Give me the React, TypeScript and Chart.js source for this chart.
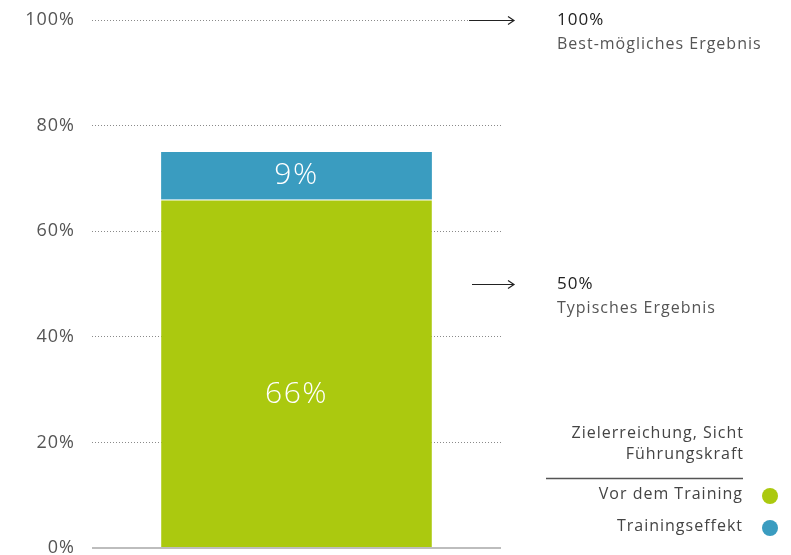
import React, { useEffect, useRef } from "react";
import { Chart, registerables } from "chart.js";

Chart.register(...registerables);

const categories = ["Zielerreichung, Sicht Führungskraft"];
const seriesNames = ["Vor dem Training", "Trainingseffekt"];
const beforeTraining = [66];
const trainingEffect = [9];
const seriesColors = ["#abc90f", "#3a9cc0"];
const yTickStep = 20;
const yMax = 100;
const referenceValues = [100, 50];
const referenceTitles = ["100%", "50%"];
const referenceLabels = ["Best-mögliches Ergebnis", "Typisches Ergebnis"];
const legendTitle = ["Zielerreichung, Sicht", "Führungskraft"];

const FONT = "'Open Sans', 'DejaVu Sans', sans-serif";

const overlayPlugin = {
  id: "overlay",
  beforeDraw(chart: any) {
    chart.ctx.letterSpacing = "1px";
  },
  afterDatasetsDraw(chart: any) {
    const ctx = chart.ctx;
    ctx.save();
    ctx.letterSpacing = "1.5px";
    ctx.fillStyle = "#ffffff";
    ctx.textAlign = "center";
    ctx.textBaseline = "middle";
    ctx.font = `300 30px ${FONT}`;
    chart.data.datasets.forEach((ds: any, di: number) => {
      const meta = chart.getDatasetMeta(di);
      meta.data.forEach((el: any, i: number) => {
        const v = ds.data[i];
        const top = el.y;
        const base = el.base;
        const frac = base - top > 100 ? 0.44 : 0.5;
        ctx.fillText(`${v}%`, el.x, base - (base - top) * frac);
      });
    });
    ctx.restore();
  },
  afterDraw(chart: any) {
    const ctx = chart.ctx;
    const y = chart.scales.y;
    ctx.save();
    ctx.letterSpacing = "1px";
    // reference arrows + texts
    referenceValues.forEach((v, i) => {
      const py = Math.round(y.getPixelForValue(v)) + 0.5;
      const x0 = i === 0 ? 469 : 472;
      const x1 = 514;
      ctx.strokeStyle = "#222";
      ctx.lineWidth = 1.2;
      ctx.beginPath();
      ctx.moveTo(x0, py);
      ctx.lineTo(x1, py);
      ctx.moveTo(x1 - 6, py - 4);
      ctx.lineTo(x1, py);
      ctx.lineTo(x1 - 6, py + 4);
      ctx.stroke();
      ctx.textAlign = "left";
      ctx.textBaseline = "middle";
      ctx.fillStyle = "#222";
      ctx.font = `17px ${FONT}`;
      ctx.fillText(referenceTitles[i], 557, py);
      ctx.fillStyle = "#555";
      ctx.font = `16px ${FONT}`;
      ctx.fillText(referenceLabels[i], 557, py + 24);
    });
    // legend
    ctx.textAlign = "right";
    ctx.textBaseline = "middle";
    ctx.fillStyle = "#444";
    ctx.font = `16px ${FONT}`;
    legendTitle.forEach((t, i) => ctx.fillText(t, 744, 433 + i * 21));
    ctx.strokeStyle = "#555";
    ctx.lineWidth = 1.5;
    ctx.beginPath();
    ctx.moveTo(546, 478.5);
    ctx.lineTo(743, 478.5);
    ctx.stroke();
    chart.data.datasets.forEach((ds: any, i: number) => {
      const ly = 494 + i * 32;
      ctx.fillStyle = "#444";
      ctx.fillText(ds.label, 743, ly);
      ctx.fillStyle = ds.backgroundColor;
      ctx.beginPath();
      ctx.arc(770, ly + 2, 8, 0, Math.PI * 2);
      ctx.fill();
    });
    ctx.restore();
    ctx.letterSpacing = "0px";
  },
};

export default function App() {
  const ref = useRef<HTMLCanvasElement>(null);
  useEffect(() => {
    if (!ref.current) return;
    const chart = new Chart(ref.current, {
      type: "bar",
      data: {
        labels: categories,
        datasets: [
          {
            label: seriesNames[0],
            data: beforeTraining,
            backgroundColor: seriesColors[0],
            borderColor: "rgba(255,255,255,0.8)",
            borderWidth: { top: 1 } as any,
            borderSkipped: false,
            barPercentage: 1,
            categoryPercentage: 0.662,
          },
          {
            label: seriesNames[1],
            data: trainingEffect,
            backgroundColor: seriesColors[1],
            barPercentage: 1,
            categoryPercentage: 0.662,
          },
        ],
      },
      options: {
        responsive: false,
        animation: false,
        layout: { padding: { left: 0, right: 290, top: 20, bottom: 7 } },
        plugins: { legend: { display: false }, tooltip: { enabled: false } },
        scales: {
          x: { stacked: true, display: false },
          y: {
            stacked: true,
            min: 0,
            max: yMax,
            border: {
              display: false,
              dash: (c: any) => (c.tick && c.tick.value === 0 ? [] : [1, 2]),
            },
            grid: {
              drawTicks: false,
              color: (c: any) => (c.tick && c.tick.value === 0 ? "#bdbdbd" : "#8a8a8a"),
              lineWidth: (c: any) => (c.tick && c.tick.value === 0 ? 2 : 1),
            },
            ticks: {
              stepSize: yTickStep,
              padding: 17,
              color: "#555",
              font: { family: FONT, size: 18 },
              callback: (v: any) => `${v}%`,
            },
            afterFit: (s: any) => {
              s.width = 92;
              s.paddingTop = 0;
              s.paddingBottom = 0;
            },
          },
        },
      },
      plugins: [overlayPlugin],
    });
    return () => chart.destroy();
  }, []);
  return (
    <div style={{ position: "absolute", left: 0, top: 0, width: 791, height: 555, background: "#fff" }}>
      <canvas ref={ref} width={791} height={555} />
    </div>
  );
}
